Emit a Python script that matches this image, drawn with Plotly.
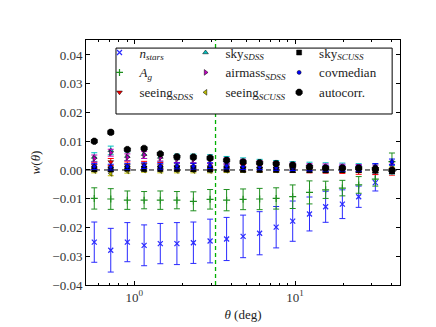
import plotly.graph_objects as go

# angular bins (deg)
theta = [0.563, 0.713, 0.904, 1.15, 1.45, 1.84, 2.33, 2.96, 3.75, 4.75,
         6.02, 7.63, 9.67, 12.3, 15.5, 19.7, 24.9, 31.6, 40.1]

n_stars = [-0.0251, -0.0279, -0.0251, -0.0262, -0.0256, -0.0256, -0.0253, -0.0247, -0.0240, -0.0231,
           -0.0220, -0.0199, -0.0178, -0.0153, -0.0128, -0.0119, -0.0093, -0.0044, 0.0010]
n_stars_err = [0.0070, 0.0076, 0.0068, 0.0071, 0.0070, 0.0073, 0.0072, 0.0076, 0.0075, 0.0074,
               0.0075, 0.0072, 0.0070, 0.0059, 0.0054, 0.0050, 0.0037, 0.0029, 0.0020]

a_g = [-0.0099, -0.0101, -0.0105, -0.0105, -0.0105, -0.0105, -0.0109, -0.0102, -0.0105, -0.0102,
       -0.0101, -0.0099, -0.0093, -0.0078, -0.0069, -0.0063, -0.0052, -0.0032, 0.0029]
a_g_err = [0.0037, 0.0036, 0.0032, 0.0030, 0.0032, 0.0030, 0.0033, 0.0034, 0.0037, 0.0036,
           0.0037, 0.0037, 0.0041, 0.0040, 0.0030, 0.0027, 0.0029, 0.0024, 0.0030]

seeing_sdss = [0.0015, 0.0028, 0.0016, 0.0018, 0.0014, 0.0012, 0.0011, 0.0010, 0.0009, 0.0007,
               0.0006, 0.0005, 0.0003, 0.0002, 0.0001, 0.0000, -0.0003, -0.0004, -0.0006]
seeing_sdss_err = [0.0012] * 19

sky_sdss = [0.0045, 0.0068, 0.0048, 0.0055, 0.0045, 0.0040, 0.0040, 0.0038, 0.0032, 0.0027,
            0.0022, 0.0018, 0.0014, 0.0012, 0.0010, 0.0009, 0.0007, 0.0006, 0.0001]
sky_sdss_err = [0.0015] * 19

airmass_sdss = [0.0040, 0.0060, 0.0044, 0.0052, 0.0043, 0.0038, 0.0037, 0.0035, 0.0030, 0.0025,
                0.0020, 0.0016, 0.0013, 0.0010, 0.0009, 0.0008, 0.0007, 0.0005, 0.0008]
airmass_sdss_err = [0.0012] * 19

seeing_scuss = [-0.0002, -0.0012, -0.0003, 0.0000, -0.0002, -0.0002, -0.0002, -0.0002, -0.0001, 0.0000,
                0.0000, 0.0000, 0.0000, 0.0000, 0.0000, 0.0000, 0.0000, 0.0000, 0.0002]
seeing_scuss_err = [0.0008] * 19

sky_scuss = [0.0003, 0.0002, 0.0005, 0.0004, 0.0004, 0.0004, 0.0003, 0.0002, 0.0002, 0.0001,
             0.0001, 0.0001, 0.0000, 0.0000, -0.0001, 0.0000, 0.0000, -0.0002, -0.0004]
sky_scuss_err = [0.0008] * 19

covmedian = [0.0012, 0.0010, 0.0012, 0.0015, 0.0013, 0.0014, 0.0013, 0.0015, 0.0014, 0.0012,
             0.0011, 0.0009, 0.0008, 0.0007, 0.0006, 0.0006, 0.0006, 0.0012, 0.0028]
covmedian_err = [0.0010] * 19

autocorr = [0.0100, 0.0131, 0.0071, 0.0075, 0.0056, 0.0046, 0.0045, 0.0042, 0.0034, 0.0028,
            0.0025, 0.0022, 0.0017, 0.0011, 0.0007, 0.0007, 0.0007, 0.0004, -0.0001]
autocorr_err = [0.0006, 0.0007, 0.0005, 0.0005, 0.0004, 0.0004, 0.0004, 0.0004, 0.0003, 0.0003,
                0.0003, 0.0003, 0.0003, 0.0003, 0.0003, 0.0003, 0.0003, 0.0003, 0.0003]

theta_cut = 3.2

# (name, y, err, color, symbol, size, legend, rank)
series = [
    ("<i>n</i><sub><i>stars</i></sub>", n_stars, n_stars_err, "#2a2aff", "x-thin", 5, "legend", 1),
    ("<i>A</i><sub><i>g</i></sub>", a_g, a_g_err, "#1f8f1f", "cross-thin", 5, "legend", 2),
    ("seeing<sub><i>SDSS</i></sub>", seeing_sdss, seeing_sdss_err, "#ff0000", "triangle-down", 5, "legend", 3),
    ("sky<sub><i>SDSS</i></sub>", sky_sdss, sky_sdss_err, "#00bfbf", "triangle-up", 5, "legend2", 1),
    ("airmass<sub><i>SDSS</i></sub>", airmass_sdss, airmass_sdss_err, "#bf00bf", "triangle-right", 5, "legend2", 2),
    ("seeing<sub><i>SCUSS</i></sub>", seeing_scuss, seeing_scuss_err, "#bfbf00", "triangle-left", 5, "legend2", 3),
    ("sky<sub><i>SCUSS</i></sub>", sky_scuss, sky_scuss_err, "#000000", "square", 5, "legend3", 1),
    ("covmedian", covmedian, covmedian_err, "#0000ff", "circle", 4, "legend3", 2),
    ("autocorr.", autocorr, autocorr_err, "#000000", "octagon", 7, "legend3", 3),
]

fig = go.Figure()
for name, y, err, color, sym, size, leg, rank in series:
    thin = sym.endswith("-thin")
    fig.add_trace(go.Scatter(
        x=theta, y=y, mode="markers", name=name, legend=leg, legendrank=rank,
        error_y=dict(type="data", array=err, color=color, thickness=1, width=3),
        marker=dict(symbol=sym, size=size, color=color,
                    line=dict(color=color if thin else "black", width=1.2 if thin else 0.5)),
    ))

# legend frame, in paper units
box_x0, box_x1, box_y0, box_y1 = 0.0955, 0.975, 0.698, 0.967

# cut line, interrupted by the legend frame
cut_line = dict(color="#00b000", width=1.3, dash="4px,3px")
for ya, yb in [(0, box_y0), (box_y1, 1)]:
    fig.add_shape(type="line", xref="x", yref="paper", x0=theta_cut, x1=theta_cut,
                  y0=ya, y1=yb, line=cut_line, layer="below")
fig.add_hline(y=0, line=dict(color="black", width=1, dash="5px,4px"), layer="below")

fig.add_shape(type="rect", xref="paper", yref="paper", x0=box_x0, x1=box_x1, y0=box_y0, y1=box_y1,
              line=dict(color="black", width=1), fillcolor="white", layer="above")

serif = "Liberation Serif, DejaVu Serif, serif"
font = dict(family=serif, size=13, color="#222")
leg_common = dict(yanchor="top", y=1.01, xanchor="left", bgcolor="rgba(0,0,0,0)",
                  borderwidth=0, itemwidth=30, font=font, tracegroupgap=0)
axis_common = dict(showline=True, linecolor="black", linewidth=1, mirror="ticks",
                   ticks="inside", ticklen=4, tickcolor="black", showgrid=False, zeroline=False,
                   tickfont=dict(family=serif, size=13, color="#333"))

fig.update_layout(
    width=436, height=327,
    margin=dict(l=78, r=44, t=32, b=50),
    plot_bgcolor="white", paper_bgcolor="white",
    font=font,
    legend=dict(x=0.043, **leg_common),
    legend2=dict(x=0.317, **leg_common),
    legend3=dict(x=0.615, **leg_common),
    xaxis=dict(type="log", range=[-0.30103, 1.65321], dtick=1,
               tickvals=[1, 10], ticktext=["10<sup>0</sup>", "10<sup>1</sup>"],
               minor=dict(ticks="inside", ticklen=2, tickcolor="black",
                          tickvals=[0.5, 0.6, 0.7, 0.8, 0.9, 2, 3, 4, 5, 6, 7, 8, 9, 20, 30, 40]),
               title=dict(text="<i>θ</i> (deg)", font=dict(family=serif, size=13), standoff=6),
               **axis_common),
    yaxis=dict(range=[-0.04, 0.0452], dtick=0.01, tick0=0, tickformat=".2f",
               title=dict(text="<i>w</i>(<i>θ</i>)", font=dict(family=serif, size=13), standoff=8),
               **axis_common),
)

fig.write_html("out.html")
